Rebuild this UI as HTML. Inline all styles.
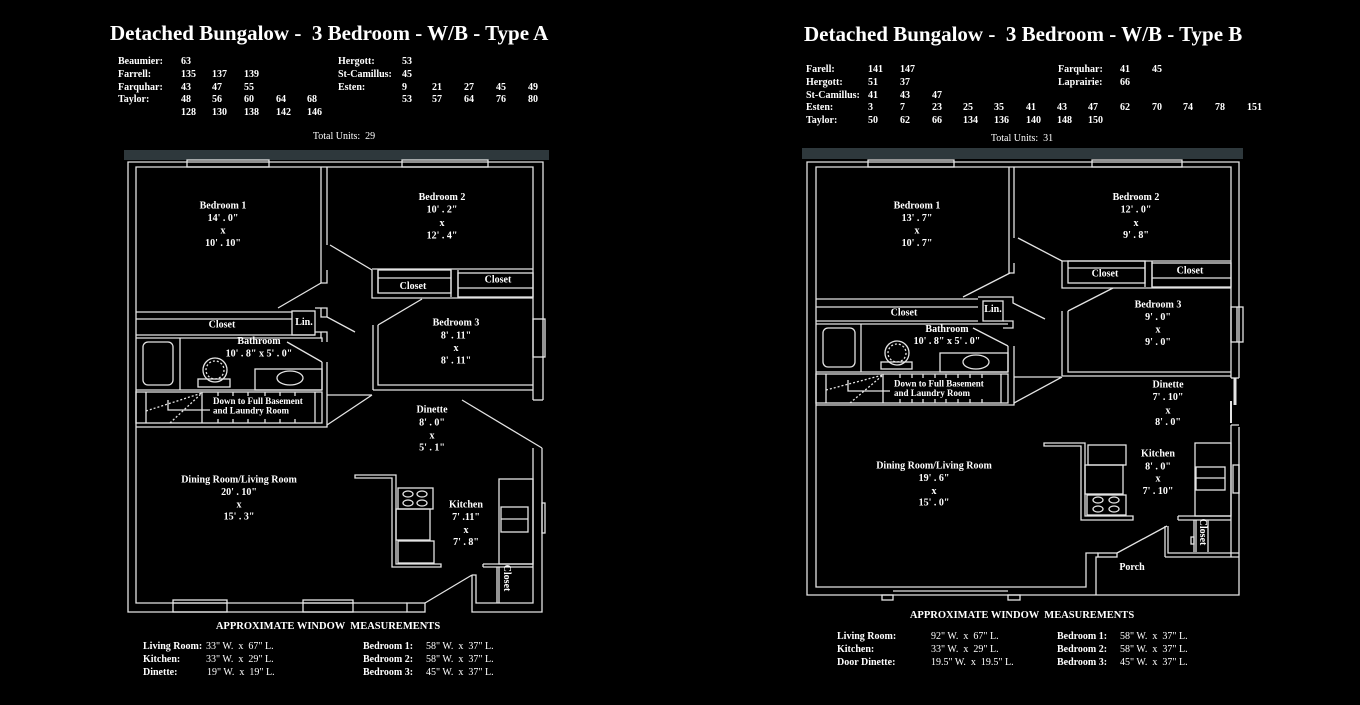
<!DOCTYPE html>
<html><head><meta charset="utf-8"><style>
html,body{margin:0;padding:0;background:#000;}
svg{display:block;}
text{font-family:"Liberation Serif",serif;fill:#fff;white-space:pre;}
.t{font-size:21px;font-weight:bold;}
.b{font-size:10px;font-weight:bold;}
.r{font-size:10px;}
.c{text-anchor:middle;}
</style></head><body>
<svg width="1360" height="705" viewBox="0 0 1360 705" xmlns="http://www.w3.org/2000/svg">
<rect width="1360" height="705" fill="#000"/>

<!-- ============ LEFT HEADER ============ -->
<text class="t" x="110" y="40">Detached Bungalow -  3 Bedroom - W/B - Type A</text>
<g class="b">
<text class="b" x="118" y="64">Beaumier:</text><text class="b" x="181" y="64">63</text>
<text class="b" x="338" y="64">Hergott:</text><text class="b" x="402" y="64">53</text>
<text class="b" x="118" y="77">Farrell:</text><text class="b" x="181" y="77">135</text><text class="b" x="212" y="77">137</text><text class="b" x="244" y="77">139</text>
<text class="b" x="338" y="77">St-Camillus:</text><text class="b" x="402" y="77">45</text>
<text class="b" x="118" y="90">Farquhar:</text><text class="b" x="181" y="90">43</text><text class="b" x="212" y="90">47</text><text class="b" x="244" y="90">55</text>
<text class="b" x="338" y="90">Esten:</text><text class="b" x="402" y="90">9</text><text class="b" x="432" y="90">21</text><text class="b" x="464" y="90">27</text><text class="b" x="496" y="90">45</text><text class="b" x="528" y="90">49</text>
<text class="b" x="118" y="102">Taylor:</text><text class="b" x="181" y="102">48</text><text class="b" x="212" y="102">56</text><text class="b" x="244" y="102">60</text><text class="b" x="276" y="102">64</text><text class="b" x="307" y="102">68</text>
<text class="b" x="402" y="102">53</text><text class="b" x="432" y="102">57</text><text class="b" x="464" y="102">64</text><text class="b" x="496" y="102">76</text><text class="b" x="528" y="102">80</text>
<text class="b" x="181" y="115">128</text><text class="b" x="212" y="115">130</text><text class="b" x="244" y="115">138</text><text class="b" x="276" y="115">142</text><text class="b" x="307" y="115">146</text>
</g>
<text class="r c" x="344" y="139">Total Units:  29</text>

<!-- ============ RIGHT HEADER ============ -->
<text class="t" x="804" y="41">Detached Bungalow -  3 Bedroom - W/B - Type B</text>
<text class="b" x="806" y="72">Farell:</text><text class="b" x="868" y="72">141</text><text class="b" x="900" y="72">147</text>
<text class="b" x="1058" y="72">Farquhar:</text><text class="b" x="1120" y="72">41</text><text class="b" x="1152" y="72">45</text>
<text class="b" x="806" y="85">Hergott:</text><text class="b" x="868" y="85">51</text><text class="b" x="900" y="85">37</text>
<text class="b" x="1058" y="85">Laprairie:</text><text class="b" x="1120" y="85">66</text>
<text class="b" x="806" y="98">St-Camillus:</text><text class="b" x="868" y="98">41</text><text class="b" x="900" y="98">43</text><text class="b" x="932" y="98">47</text>
<text class="b" x="806" y="110">Esten:</text><text class="b" x="868" y="110">3</text><text class="b" x="900" y="110">7</text><text class="b" x="932" y="110">23</text><text class="b" x="963" y="110">25</text><text class="b" x="994" y="110">35</text><text class="b" x="1026" y="110">41</text><text class="b" x="1057" y="110">43</text><text class="b" x="1088" y="110">47</text><text class="b" x="1120" y="110">62</text><text class="b" x="1152" y="110">70</text><text class="b" x="1183" y="110">74</text><text class="b" x="1215" y="110">78</text><text class="b" x="1247" y="110">151</text>
<text class="b" x="806" y="123">Taylor:</text><text class="b" x="868" y="123">50</text><text class="b" x="900" y="123">62</text><text class="b" x="932" y="123">66</text><text class="b" x="963" y="123">134</text><text class="b" x="994" y="123">136</text><text class="b" x="1026" y="123">140</text><text class="b" x="1057" y="123">148</text><text class="b" x="1088" y="123">150</text>
<text class="r c" x="1022" y="141">Total Units:  31</text>

<!-- ============ GRAY BARS ============ -->
<rect x="124" y="150" width="425" height="10" fill="#2e383c"/>
<rect x="802" y="148" width="441" height="11" fill="#2e383c"/>

<!-- ============ LEFT PLAN ============ -->
<g stroke="#e4e4e4" stroke-width="1.3" fill="none">
<path d="M543 400 V162 H128 V612 H407"/>
<path d="M533 400 V167 H136 V603 H407"/>
<path d="M533 400 H543"/>
<rect x="187" y="160" width="82" height="7"/>
<rect x="402" y="160" width="86" height="7"/>
<rect x="533" y="319" width="12" height="38"/>
<rect x="173" y="600" width="54" height="12"/><line x1="173" y1="603" x2="227" y2="603"/>
<rect x="303" y="600" width="50" height="12"/><line x1="303" y1="603" x2="353" y2="603"/>
<rect x="407" y="603" width="18" height="9"/>
<path d="M462 400 L542 448"/>
<path d="M542 448 V612 H472 V575"/>
<path d="M533 448 V603 H476 V575 H472"/>
<rect x="542" y="503" width="3" height="30"/>
<path d="M425 603 L472 575"/>
<!-- bedroom 1 / 2 walls -->
<path d="M321 167 V283 H327 V270"/>
<path d="M327 167 V245"/>
<path d="M330 245 L372 270"/>
<path d="M372 269 H533"/>
<path d="M372 270 V298 H422"/>
<path d="M378 270 V293"/>
<rect x="378" y="270" width="73" height="23"/><line x1="378" y1="278" x2="451" y2="278"/>
<path d="M451 270 V297 M458 270 V297"/>
<rect x="458" y="273" width="75" height="24"/><line x1="458" y1="288" x2="533" y2="288"/>
<path d="M422 298 H533"/>
<path d="M378 325 L422 299"/>
<path d="M373 325 V390 M378 325 V385 H533"/>
<path d="M373 390 H533"/>
<!-- bedroom1 closet & lin -->
<path d="M321 283 L278 308"/>
<path d="M136 312 H292"/>
<line x1="136" y1="319" x2="292" y2="319"/>
<path d="M136 335 H315"/>
<rect x="292" y="311" width="23" height="24"/>
<path d="M315 308 H327 V317 L355 332 M327 317 H321 V308"/>
<path d="M315 332 H327 V342 M321 332 V338"/>
<!-- bathroom -->
<path d="M136 338 H322 V342"/>
<path d="M287 342 L322 362"/>
<path d="M322 362 V390 M327 362 V423"/>
<line x1="180" y1="338" x2="180" y2="390"/>
<rect x="143" y="342" width="30" height="43" rx="5"/>
<circle cx="215" cy="370" r="12"/>
<circle cx="215" cy="370" r="9" stroke-dasharray="2 2"/>
<rect x="198" y="379" width="32" height="8"/>
<rect x="255" y="369" width="67" height="21"/>
<ellipse cx="290" cy="378" rx="13" ry="7"/>
<path d="M136 390 H322"/>
<!-- stairs -->
<rect x="136" y="392" width="186" height="31"/>
<path d="M146 392 V423 M202 392 V423 M315 392 V423"/>
<path d="M218 392 v4 M233 392 v4 M248 392 v4 M265 392 v4 M280 392 v4 M295 392 v4 M218 423 v-4 M233 423 v-4 M248 423 v-4 M265 423 v-4 M280 423 v-4 M295 423 v-4"/>
<path d="M146 411 L202 393 M170 423 L202 393" stroke-dasharray="2 2"/>
<path d="M168 400 V410 H210"/>
<path d="M136 427 H327 V423"/>
<path d="M327 395 H372 M327 425 L372 395"/>
<!-- kitchen -->
<path d="M355 475 H396 V564 H441 V567 H392 V478 H355 Z"/>
<rect x="398" y="488" width="35" height="21"/>
<ellipse cx="408" cy="494" rx="5" ry="3"/><ellipse cx="422" cy="494" rx="5" ry="3"/>
<ellipse cx="408" cy="503" rx="5" ry="3"/><ellipse cx="422" cy="503" rx="5" ry="3"/>
<rect x="396" y="509" width="34" height="31"/>
<rect x="398" y="541" width="36" height="22"/>
<rect x="499" y="479" width="34" height="85"/>
<rect x="501" y="507" width="27" height="25"/><line x1="501" y1="519" x2="528" y2="519"/>
<path d="M483 564 H533 M483 567 H533 M483 564 V567"/>
<path d="M497 567 V603 M499 567 V603"/>
</g>
<!-- left labels -->
<g class="b">
<text class="b c" x="223" y="208.5">Bedroom 1</text>
<text class="b c" x="223" y="221">14' . 0"</text>
<text class="b c" x="223" y="233.5">x</text>
<text class="b c" x="223" y="246">10' . 10"</text>
<text class="b c" x="442" y="200">Bedroom 2</text>
<text class="b c" x="442" y="212.5">10' . 2"</text>
<text class="b c" x="442" y="226">x</text>
<text class="b c" x="442" y="238.5">12' . 4"</text>
<text class="b c" x="413" y="289">Closet</text>
<text class="b c" x="498" y="282.5">Closet</text>
<text class="b c" x="222" y="327.5">Closet</text>
<text class="b c" x="304" y="325">Lin.</text>
<text class="b c" x="259" y="344">Bathroom</text>
<text class="b c" x="259" y="356.5">10' . 8" x 5' . 0"</text>
<text class="b c" x="456" y="325.5">Bedroom 3</text>
<text class="b c" x="456" y="338.5">8' . 11"</text>
<text class="b c" x="456" y="351">x</text>
<text class="b c" x="456" y="363.5">8' . 11"</text>
<text class="b" x="213" y="404" style="font-size:9px">Down to Full Basement</text>
<text class="b" x="213" y="413.5" style="font-size:9px">and Laundry Room</text>
<text class="b c" x="432" y="412.5">Dinette</text>
<text class="b c" x="432" y="425.5">8' . 0"</text>
<text class="b c" x="432" y="438.5">x</text>
<text class="b c" x="432" y="450.5">5' . 1"</text>
<text class="b c" x="239" y="482.5">Dining Room/Living Room</text>
<text class="b c" x="239" y="495">20' . 10"</text>
<text class="b c" x="239" y="507.5">x</text>
<text class="b c" x="239" y="519.5">15' . 3"</text>
<text class="b c" x="466" y="507.5">Kitchen</text>
<text class="b c" x="466" y="520">7' .11"</text>
<text class="b c" x="466" y="533">x</text>
<text class="b c" x="466" y="545">7' . 8"</text>
<text class="b c" x="0" y="0" transform="translate(504,578) rotate(90)">Closet</text>
</g>

<!-- ============ RIGHT PLAN ============ -->
<g stroke="#e4e4e4" stroke-width="1.3" fill="none">
<path d="M1239 378 V162 H807 V595 H1239 V427"/>
<path d="M1231 378 V167 H816 V587 H1086 V553 H1098"/>
<path d="M1231 378 H1239"/>
<rect x="868" y="160" width="86" height="7"/>
<rect x="1092" y="160" width="90" height="7"/>
<rect x="1231" y="307" width="12" height="35"/><line x1="1237" y1="307" x2="1237" y2="342"/>
<rect x="882" y="595" width="11" height="5"/>
<rect x="1008" y="595" width="12" height="5"/>
<line x1="893" y1="591" x2="1008" y2="591"/>
<rect x="1233" y="465" width="6" height="28"/>
<path d="M1231 425 V557 M1231 425 H1239"/>
<line x1="1235" y1="378" x2="1235" y2="405" stroke-width="3"/>
<line x1="1231" y1="401" x2="1231" y2="423" stroke-width="2"/>
<!-- bedroom walls -->
<path d="M1009 167 V273 H1014 V263"/>
<path d="M1014 167 V238"/>
<path d="M1018 238 L1062 261"/>
<path d="M1062 261 H1231"/>
<path d="M1062 261 V288 H1113"/>
<rect x="1068" y="261" width="77" height="22"/><line x1="1068" y1="268" x2="1145" y2="268"/>
<path d="M1145 261 V287 M1152 261 V287"/>
<rect x="1152" y="263" width="79" height="24"/><line x1="1152" y1="278" x2="1231" y2="278"/>
<path d="M1113 288 H1231"/>
<path d="M1068 311 L1113 288"/>
<path d="M1062 311 V376 M1068 311 V372 H1231"/>
<path d="M1062 376 H1231"/>
<!-- bedroom 1 closet -->
<path d="M1010 273 L963 297"/>
<path d="M816 299 H978 M816 307 H978 M816 321 H978"/>
<rect x="983" y="301" width="20" height="20"/>
<path d="M978 297 H1013 V303 L1045 319 M1003 321 H1013 V328 H1003"/>
<!-- bathroom -->
<path d="M816 324 H1008"/>
<path d="M973 328 L1008 346"/>
<path d="M1008 346 V372 M1014 346 V403"/>
<line x1="861" y1="324" x2="861" y2="372"/>
<rect x="823" y="328" width="32" height="39" rx="5"/>
<circle cx="897" cy="353" r="12"/>
<circle cx="897" cy="353" r="9" stroke-dasharray="2 2"/>
<rect x="881" y="362" width="31" height="7"/>
<rect x="940" y="353" width="68" height="19"/>
<ellipse cx="976" cy="362" rx="13" ry="7"/>
<path d="M816 372 H1008"/>
<!-- stairs -->
<rect x="816" y="374" width="192" height="29"/>
<path d="M826 374 V403 M883 374 V403 M1001 374 V403"/>
<path d="M900 374 v4 M912 374 v4 M923 374 v4 M935 374 v4 M946 374 v4 M958 374 v4 M970 374 v4 M982 374 v4 M900 403 v-4 M912 403 v-4 M923 403 v-4 M935 403 v-4 M946 403 v-4 M958 403 v-4 M970 403 v-4 M982 403 v-4"/>
<path d="M826 390 L883 375 M850 403 L883 375" stroke-dasharray="2 2"/>
<path d="M848 380 V391 H890"/>
<path d="M816 405 H1014 V403"/>
<path d="M1014 377 H1062 M1014 403 L1062 377"/>
<!-- kitchen -->
<path d="M1044 443 H1085 V516 H1133 V520 H1081 V446 H1044 Z"/>
<rect x="1088" y="445" width="38" height="20"/>
<rect x="1085" y="465" width="38" height="29"/>
<rect x="1087" y="495" width="39" height="20"/>
<ellipse cx="1098" cy="500" rx="5" ry="3"/><ellipse cx="1114" cy="500" rx="5" ry="3"/>
<ellipse cx="1098" cy="509" rx="5" ry="3"/><ellipse cx="1114" cy="509" rx="5" ry="3"/>
<rect x="1195" y="443" width="36" height="73"/>
<rect x="1196" y="467" width="29" height="23"/><line x1="1196" y1="478" x2="1225" y2="478"/>
<path d="M1178 516 H1231 M1178 520 H1231 M1178 516 V520"/>
<path d="M1194 520 V552 M1196 520 V552 M1208 520 V552"/>
<rect x="1191" y="537" width="3" height="7"/>
<path d="M1165 526 V553 M1168 526 V553 H1239 M1165 557 H1239 M1165 553 V557"/>
<path d="M1167 526 L1117 553"/>
<rect x="1098" y="553" width="19" height="4"/>
<path d="M1096 595 V557 H1098"/>
</g>
<!-- right labels -->
<g class="b">
<text class="b c" x="917" y="208.5">Bedroom 1</text>
<text class="b c" x="917" y="221">13' . 7"</text>
<text class="b c" x="917" y="233.5">x</text>
<text class="b c" x="917" y="246">10' . 7"</text>
<text class="b c" x="1136" y="200">Bedroom 2</text>
<text class="b c" x="1136" y="212.5">12' . 0"</text>
<text class="b c" x="1136" y="226">x</text>
<text class="b c" x="1136" y="238">9' . 8"</text>
<text class="b c" x="1105" y="276.5">Closet</text>
<text class="b c" x="1190" y="273.5">Closet</text>
<text class="b c" x="904" y="315.5">Closet</text>
<text class="b c" x="993" y="312">Lin.</text>
<text class="b c" x="947" y="332">Bathroom</text>
<text class="b c" x="947" y="344">10' . 8" x 5' . 0"</text>
<text class="b c" x="1158" y="307.5">Bedroom 3</text>
<text class="b c" x="1158" y="320">9' . 0"</text>
<text class="b c" x="1158" y="332.5">x</text>
<text class="b c" x="1158" y="345">9' . 0"</text>
<text class="b" x="894" y="386.5" style="font-size:9px">Down to Full Basement</text>
<text class="b" x="894" y="396" style="font-size:9px">and Laundry Room</text>
<text class="b c" x="1168" y="387.5">Dinette</text>
<text class="b c" x="1168" y="400">7' . 10"</text>
<text class="b c" x="1168" y="413.5">x</text>
<text class="b c" x="1168" y="425">8' . 0"</text>
<text class="b c" x="934" y="468.5">Dining Room/Living Room</text>
<text class="b c" x="934" y="481">19' . 6"</text>
<text class="b c" x="934" y="494">x</text>
<text class="b c" x="934" y="505.5">15' . 0"</text>
<text class="b c" x="1158" y="456.5">Kitchen</text>
<text class="b c" x="1158" y="469.5">8' . 0"</text>
<text class="b c" x="1158" y="481.5">x</text>
<text class="b c" x="1158" y="494">7' . 10"</text>
<text class="b c" x="1132" y="570">Porch</text>
<text class="b c" x="0" y="0" transform="translate(1200,532) rotate(90)">Closet</text>
</g>

<!-- ============ LEFT WINDOW MEASUREMENTS ============ -->
<text class="b c" x="328" y="629" style="font-size:10.5px">APPROXIMATE WINDOW  MEASUREMENTS</text>
<text class="b" x="143" y="649">Living Room:</text><text class="r" x="206" y="649">33" W.  x  67" L.</text>
<text class="b" x="143" y="662">Kitchen:</text><text class="r" x="206" y="662">33" W.  x  29" L.</text>
<text class="b" x="143" y="675">Dinette:</text><text class="r" x="207" y="675">19" W.  x  19" L.</text>
<text class="b" x="363" y="649">Bedroom 1:</text><text class="r" x="426" y="649">58" W.  x  37" L.</text>
<text class="b" x="363" y="662">Bedroom 2:</text><text class="r" x="426" y="662">58" W.  x  37" L.</text>
<text class="b" x="363" y="675">Bedroom 3:</text><text class="r" x="426" y="675">45" W.  x  37" L.</text>

<!-- ============ RIGHT WINDOW MEASUREMENTS ============ -->
<text class="b c" x="1022" y="618" style="font-size:10.5px">APPROXIMATE WINDOW  MEASUREMENTS</text>
<text class="b" x="837" y="639">Living Room:</text><text class="r" x="931" y="639">92" W.  x  67" L.</text>
<text class="b" x="837" y="652">Kitchen:</text><text class="r" x="931" y="652">33" W.  x  29" L.</text>
<text class="b" x="837" y="665">Door Dinette:</text><text class="r" x="931" y="665">19.5" W.  x  19.5" L.</text>
<text class="b" x="1057" y="639">Bedroom 1:</text><text class="r" x="1120" y="639">58" W.  x  37" L.</text>
<text class="b" x="1057" y="652">Bedroom 2:</text><text class="r" x="1120" y="652">58" W.  x  37" L.</text>
<text class="b" x="1057" y="665">Bedroom 3:</text><text class="r" x="1120" y="665">45" W.  x  37" L.</text>
</svg>
</body></html>
